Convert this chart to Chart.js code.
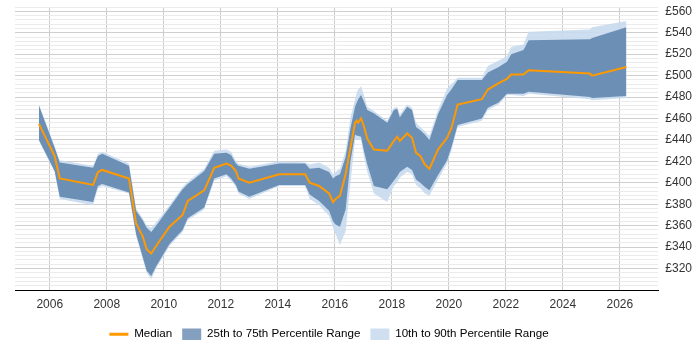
<!DOCTYPE html>
<html>
<head>
<meta charset="utf-8">
<script src="https://cdn.jsdelivr.net/npm/chart.js@4/dist/chart.umd.min.js"></script>
<style>
  html, body { margin: 0; padding: 0; background: #fff; }
</style>
</head>
<body>
<canvas id="myChart" width="700" height="350"></canvas>
<script>
// decimal years of each sample
const years = [2005.62, 2006.17, 2006.35, 2007.52, 2007.69, 2007.84, 2008.78, 2009.03, 2009.26, 2009.40,
  2009.56, 2009.73, 2010.2, 2010.66, 2010.84, 2011.42, 2011.77, 2012.2, 2012.36, 2012.53,
  2012.62, 2013.0, 2014.05, 2014.96, 2015.12, 2015.45, 2015.8, 2015.94, 2016.03, 2016.18,
  2016.38, 2016.55, 2016.71, 2016.77, 2016.82, 2016.92, 2017.02, 2017.14, 2017.37, 2017.84,
  2018.07, 2018.19, 2018.28, 2018.54, 2018.71, 2018.85, 2019.0, 2019.16, 2019.32, 2019.62,
  2019.94, 2020.09, 2020.31, 2021.16, 2021.37, 2021.75, 2022.04, 2022.19, 2022.62, 2022.8,
  2024.95, 2025.03, 2026.23];

const median = [455, 425, 404, 398, 410, 412, 404, 362, 350, 338,
  334, 341, 359, 370, 383, 393, 414, 418, 416, 411,
  404, 400, 408, 408, 400, 397, 390, 382, 385, 388,
  408, 433, 456, 458, 456, 460, 453, 441, 431, 430,
  439, 443, 439, 446, 442, 428, 425, 417, 413, 431,
  442, 451, 473, 478, 487, 493, 497, 501, 501, 505,
  502, 500, 508];

const p25 = [440, 411, 387, 382, 397, 399, 391, 352, 331, 318,
  313, 322, 343, 356, 367, 377, 404, 408, 404, 398,
  392, 387, 398, 398, 389, 383, 374, 364, 361, 359,
  375, 420, 445, 444, 444, 443, 430, 417, 397, 394,
  402, 406, 410, 415, 412, 403, 400, 396, 393, 407,
  421, 433, 454, 460, 470, 475, 483, 483, 483, 485,
  480, 479, 481];

const p75 = [472, 433, 419, 414, 425, 427, 416, 374, 365, 358,
  354, 360, 377, 394, 399, 411, 427, 428, 426, 418,
  416, 413, 418, 418, 413, 414, 410, 404, 406, 408,
  424, 451, 471, 475, 478, 482, 476, 468, 465, 456,
  468, 469, 461, 471, 468, 452, 449, 445, 440, 464,
  482, 487, 496, 496, 503, 508, 513, 520, 524, 533,
  534, 535, 545];

const p10 = [439, 410, 385, 379, 395, 397, 390, 350, 329, 316,
  310, 320, 341, 354, 365, 375, 402, 406, 402, 396,
  390, 385, 397, 397, 385, 379, 369, 358, 352, 342,
  355, 400, 440, 440, 440, 440, 425, 410, 390, 382,
  397, 400, 405, 410, 408, 398, 395, 390, 388, 403,
  418, 430, 452, 458, 468, 473, 482, 482, 481, 483,
  478, 477, 479];

const p90 = [473, 434, 421, 416, 427, 429, 418, 376, 367, 360,
  358, 363, 379, 396, 401, 413, 430, 431, 429, 420,
  418, 415, 420, 419, 417, 419, 414, 408, 410, 413,
  430, 461, 478, 484, 487, 490, 482, 471, 467, 458,
  470, 471, 464, 473, 470, 456, 452, 448, 444, 468,
  488, 492, 498, 498, 509, 514, 518, 527, 529, 541,
  543, 545, 551];

const yearTicks = [2006, 2008, 2010, 2012, 2014, 2016, 2018, 2020, 2022, 2024, 2026];
const priceTicks = [320, 340, 360, 380, 400, 420, 440, 460, 480, 500, 520, 540, 560];

Chart.defaults.font.family = "'Liberation Sans', Arial, sans-serif";
Chart.defaults.font.size = 12;

const toXY = arr => years.map((x, i) => ({x: x, y: arr[i]}));

const data = {
  datasets: [
    {
      label: 'Median',
      data: toXY(median),
      borderColor: '#ff9900',
      borderWidth: 2,
      pointRadius: 0,
      fill: false
    },
    {
      label: '25th to 75th Percentile Range',
      data: toXY(p75),
      borderColor: 'transparent',
      backgroundColor: 'rgba(92,129,171,0.85)',
      pointRadius: 0,
      fill: '+1'
    },
    {
      label: 'p25',
      data: toXY(p25),
      borderColor: 'transparent',
      pointRadius: 0,
      fill: false
    },
    {
      label: '10th to 90th Percentile Range',
      data: toXY(p90),
      borderColor: 'transparent',
      backgroundColor: 'rgba(200,218,238,0.9)',
      pointRadius: 0,
      fill: '+1'
    },
    {
      label: 'p10',
      data: toXY(p10),
      borderColor: 'transparent',
      pointRadius: 0,
      fill: false
    }
  ]
};

// legend sits a bit left of centre in the original
const legendShift = {
  id: 'legendShift',
  afterLayout(chart) {
    const l = chart.legend;
    if (!l) return;
    l.left -= 28;
    l.right -= 28;
  }
};

const config = {
  type: 'line',
  data,
  options: {
    responsive: false,
    animation: false,
    layout: { padding: { left: 15, top: 5, right: 1, bottom: 0 } },
    scales: {
      x: {
        type: 'linear',
        min: 2004.78,
        max: 2027.35,
        afterBuildTicks: scale => { scale.ticks = yearTicks.map(v => ({value: v})); },
        ticks: { callback: v => String(v), color: '#333', padding: 7, autoSkip: false, maxRotation: 0 },
        grid: { color: '#cccccc', drawTicks: false },
        border: { color: '#000', width: 1 }
      },
      y: {
        position: 'right',
        min: 300,
        max: 564,
        afterBuildTicks: scale => {
          const t = [];
          for (let v = 300; v <= 564; v += 4) t.push({value: v});
          scale.ticks = t;
        },
        ticks: {
          // [] keeps the grid line but takes no room
          callback: v => priceTicks.includes(v) ? '£' + v : [],
          color: '#333',
          padding: 7,
          autoSkip: false
        },
        grid: {
          color: ctx => (ctx.tick && ctx.tick.value % 20 === 0) ? '#cfcfcf' : '#ebebeb',
          drawTicks: false
        },
        border: { display: false }
      }
    },
    plugins: {
      tooltip: { enabled: false },
      legend: {
        position: 'bottom',
        labels: {
          usePointStyle: true,
          pointStyleWidth: 19,
          boxHeight: 12,
          color: '#333',
          padding: 10,
          font: { size: 11.6 },
          generateLabels: () => [
            { text: 'Median', pointStyle: 'line', strokeStyle: '#ff9900', fillStyle: '#ff9900', lineWidth: 3, datasetIndex: 0 },
            { text: '25th to 75th Percentile Range', pointStyle: 'rect', strokeStyle: '#849fc0', fillStyle: '#849fc0', lineWidth: 0, datasetIndex: 1 },
            { text: '10th to 90th Percentile Range', pointStyle: 'rect', strokeStyle: '#cfdff0', fillStyle: '#cfdff0', lineWidth: 0, datasetIndex: 3 }
          ]
        }
      }
    }
  },
  plugins: [legendShift]
};

var myChart = new Chart(document.getElementById('myChart'), config);
</script>
</body>
</html>
